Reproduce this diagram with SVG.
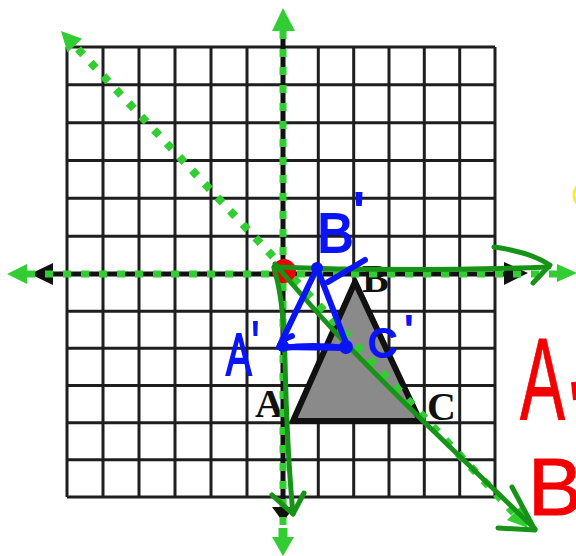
<svg xmlns="http://www.w3.org/2000/svg" width="576" height="556" viewBox="0 0 576 556">
<style>
.grid line{stroke:#1e1e1e;stroke-width:3}
.lbl{font-family:"Liberation Serif",serif;font-weight:bold;font-size:40px;fill:#111}
.lg{fill:#32cd32}
.dg{fill:none;stroke:#179417;stroke-width:5;stroke-linecap:round;stroke-linejoin:round}
.bl{fill:none;stroke:#0a14f5;stroke-width:6;stroke-linecap:round;stroke-linejoin:round}
.bt{font-family:"Liberation Sans",sans-serif;fill:#0a14f5;stroke:#0a14f5;stroke-width:2}
.rt{font-family:"Liberation Sans",sans-serif;fill:#f50000;stroke:#f50000;stroke-width:1}
</style>
<rect width="576" height="556" fill="#ffffff"/>
<g id="grid" class="grid">
<line x1="67" y1="47" x2="67" y2="497"/>
<line x1="103" y1="47" x2="103" y2="497"/>
<line x1="139" y1="47" x2="139" y2="497"/>
<line x1="175" y1="47" x2="175" y2="497"/>
<line x1="211" y1="47" x2="211" y2="497"/>
<line x1="247" y1="47" x2="247" y2="497"/>
<line x1="283" y1="47" x2="283" y2="497"/>
<line x1="318.3" y1="47" x2="318.3" y2="497"/>
<line x1="353.7" y1="47" x2="353.7" y2="497"/>
<line x1="389" y1="47" x2="389" y2="497"/>
<line x1="424.3" y1="47" x2="424.3" y2="497"/>
<line x1="459.7" y1="47" x2="459.7" y2="497"/>
<line x1="495" y1="47" x2="495" y2="497"/>
<line x1="67" y1="47" x2="495" y2="47"/>
<line x1="67" y1="84.8" x2="495" y2="84.8"/>
<line x1="67" y1="122.7" x2="495" y2="122.7"/>
<line x1="67" y1="160.5" x2="495" y2="160.5"/>
<line x1="67" y1="198.3" x2="495" y2="198.3"/>
<line x1="67" y1="236.2" x2="495" y2="236.2"/>
<line x1="67" y1="274" x2="495" y2="274"/>
<line x1="67" y1="311.2" x2="495" y2="311.2"/>
<line x1="67" y1="348.3" x2="495" y2="348.3"/>
<line x1="67" y1="385.5" x2="495" y2="385.5"/>
<line x1="67" y1="422.7" x2="495" y2="422.7"/>
<line x1="67" y1="459.8" x2="495" y2="459.8"/>
<line x1="67" y1="497" x2="495" y2="497"/>
</g>
<g id="triangle-ABC">
<polygon points="293,421 355,282 420,421" fill="#8a8a8a" stroke="#111" stroke-width="6" stroke-linejoin="miter"/>
</g>
<g id="labels">
<text class="lbl" x="255" y="417">A</text>
<text class="lbl" x="362" y="292">B</text>
<text class="lbl" x="427" y="420">C</text>
</g>
<g id="axes">
<line x1="45" y1="274" x2="515" y2="274" stroke="#111" stroke-width="5"/>
<polygon points="30,274 53,263 53,285" fill="#111"/>
<polygon points="528,273 504,262 504,285" fill="#111"/>
<line x1="283" y1="30" x2="283" y2="510" stroke="#111" stroke-width="5"/>
<polygon points="283,522 272,507 294,507" fill="#111"/>
<line x1="27" y1="274" x2="557" y2="274" stroke="#32cd32" stroke-width="7" stroke-dasharray="8 10"/>
<polygon class="lg" points="7,274 27,264 27,284"/>
<polygon class="lg" points="577,273 557,264 557,282"/>
<line x1="283" y1="31" x2="283" y2="537" stroke="#32cd32" stroke-width="7" stroke-dasharray="8 10"/>
<polygon class="lg" points="283,8 272,31 295,31"/>
<rect class="lg" x="278.5" y="528" width="9" height="10"/>
<polygon class="lg" points="283,556 272,537 294,537"/>
</g>
<g id="reflection-line">
<line x1="78" y1="49" x2="515" y2="514" stroke="#32cd32" stroke-width="8" stroke-dasharray="7.5 11"/>
<polygon class="lg" points="61,31 82,38.7 67.4,52.5"/>
<polygon class="lg" points="528,528 507,520 521,506"/>
</g>
<g id="origin">
<circle cx="284" cy="271" r="12" fill="#f00000"/>
</g>
<g id="connectors">
<path class="dg" d="M274,267 Q400,272 549,267"/>
<path class="dg" d="M494,247 Q530,252 550,265 L533,283"/>
<path class="dg" d="M274,268 Q284,300 285,360 Q287,450 293,514"/>
<path class="dg" d="M272,495 L293,514 L304,493"/>
<path class="dg" d="M275,264 C310,305 340,340 420,418 L535,529"/>
<path class="dg" d="M512,487 L535,530 L498,528"/>
</g>
<g id="triangle-prime">
<polygon class="bl" points="317,268 279,347 348,348"/>
<path class="bl" d="M292,336 Q276,342 283,348 Q310,344 348,348"/>
<circle cx="317" cy="268" r="6" fill="#0a14f5"/>
<circle cx="346" cy="347" r="7" fill="#0a14f5"/>
<circle cx="283" cy="346" r="6" fill="#0a14f5"/>
<path class="bl" d="M328,282 L365,260"/>
<text class="bt" x="317" y="252" font-size="55">B<tspan dy="-21">'</tspan></text>
<text class="bt" x="226" y="375" font-size="60" textLength="33" lengthAdjust="spacingAndGlyphs">A<tspan dy="-12">'</tspan></text>
<text class="bt" x="368" y="357" font-size="40">C<tspan dx="8" dy="-13">'</tspan></text>
</g>
<g id="notes">
<text class="rt" x="520" y="420" font-size="116" textLength="45" lengthAdjust="spacingAndGlyphs">A</text>
<path d="M574,382 L576,400" stroke="#f50000" stroke-width="6" fill="none"/>
<text class="rt" x="528" y="515" font-size="82">B</text>
<circle cx="587" cy="195" r="13" fill="none" stroke="#f2ec3a" stroke-width="3"/>
</g>
</svg>
